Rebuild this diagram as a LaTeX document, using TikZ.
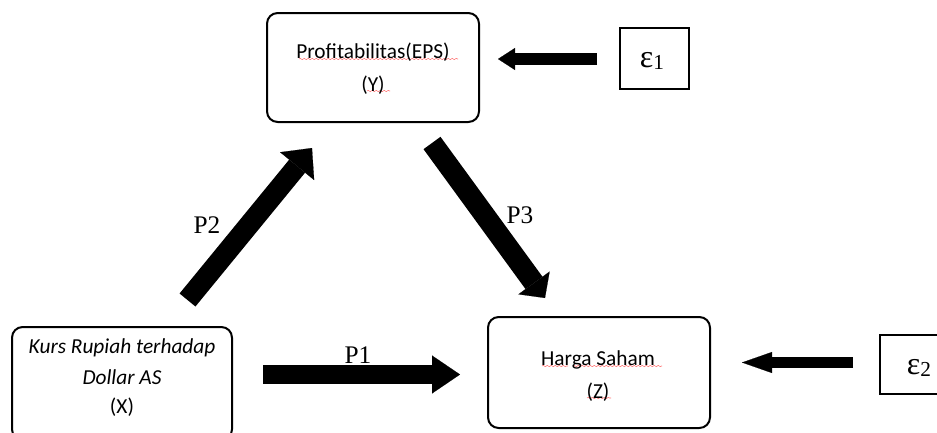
\documentclass[tikz,border=0pt]{standalone}
\usepackage{fontspec}
\setmainfont{Carlito}
\newfontfamily\tnr{Liberation Serif}
\usetikzlibrary{arrows.meta,decorations.pathmorphing}
\tikzset{
  rbox/.style={draw=black, line width=1.5pt, rounded corners=8pt, rectangle, inner sep=0pt},
  ebox/.style={draw=black, line width=1pt, rectangle, inner sep=0pt},
  txt/.style={inner sep=0pt, font=\fontsize{16}{19}\selectfont},
  plab/.style={inner sep=0pt, font=\tnr\fontsize{19}{22}\selectfont},
  elab/.style={inner sep=0pt},
  spell/.style={draw=red!55, line width=0.4pt, decorate, decoration={snake, amplitude=0.5pt, segment length=3pt}},
}
\begin{document}
\begin{tikzpicture}[x=0.75pt,y=-0.75pt]
\useasboundingbox (0,0) rectangle (937,432);
% boxes
\node[rbox, minimum width=159pt, minimum height=81.75pt] (Y) at (373,67.5) {};
\node[rbox, minimum width=165pt, minimum height=84.75pt] (X) at (122,383.5) {};
\node[rbox, minimum width=166.5pt, minimum height=83.25pt] (Z) at (599,372.5) {};
\node[ebox, minimum width=51.75pt, minimum height=45.75pt] (E1) at (654.5,58.5) {};
\node[ebox, minimum width=60pt, minimum height=44.25pt] (E2) at (920,364.5) {};
% spell-check marks
\coordinate (s1a) at (299,59); \coordinate (s1b) at (458,59);
\coordinate (s2a) at (367,91); \coordinate (s2b) at (390,91);
\coordinate (s3a) at (542,366); \coordinate (s3b) at (568,366);
\coordinate (s4a) at (573,366); \coordinate (s4b) at (662,366);
\coordinate (s5a) at (587,398); \coordinate (s5b) at (611,398);
\draw[spell] (s1a) -- (s1b);
\draw[spell] (s2a) -- (s2b);
\draw[spell] (s3a) -- (s3b);
\draw[spell] (s4a) -- (s4b);
\draw[spell] (s5a) -- (s5b);
% texts
\node[txt] (yt1) at (373,52) {Profitabilitas(EPS)};
\node[txt] (yt2) at (373,85) {(Y)};
\node[txt] (xt1) at (122,348) {\itshape Kurs Rupiah terhadap};
\node[txt] (xt2) at (122,377) {\itshape Dollar AS};
\node[txt] (xt3) at (122,407) {(X)};
\node[txt] (zt1) at (598,360) {Harga Saham};
\node[txt] (zt2) at (598,392) {(Z)};
\node[elab] (e1t) at (652,61) {\tnr\fontsize{24}{26}\selectfont ε\raisebox{-1.5pt}{\fontsize{16}{18}\selectfont 1}};
\node[elab] (e2t) at (919,368) {\tnr\fontsize{24}{26}\selectfont ε\raisebox{-1.5pt}{\fontsize{16}{18}\selectfont 2}};
% arrow coordinates
\coordinate (a1s) at (597,59);
\coordinate (a1t) at (498,59);
\coordinate (a2s) at (853,362.5);
\coordinate (a2t) at (742,362.5);
\coordinate (p1s) at (263,374.5);
\coordinate (p1t) at (460,374.5);
\coordinate (p2s) at (187.5,300);
\coordinate (p2t) at (312,148);
\coordinate (p3s) at (432,143);
\coordinate (p3t) at (545,298);
% arrows
\draw[line width=9pt, -{Triangle[length=12.75pt, width=16.5pt, line width=0.1pt]}] (a1s) -- (a1t);
\draw[line width=8.6pt, -{Triangle[length=22.5pt, width=15.75pt, line width=0.1pt]}] (a2s) -- (a2t);
\draw[line width=14.25pt, -{Triangle[length=21pt, width=28.5pt, line width=0.1pt]}] (p1s) -- (p1t);
\draw[line width=15.4pt, -{Triangle[length=17.6pt, width=33pt, line width=0.1pt]}] (p2s) -- (p2t);
\draw[line width=15.75pt, -{Triangle[length=14pt, width=29pt, line width=0.1pt]}] (p3s) -- (p3t);
% labels
\node[plab] (P1) at (358,355) {P1};
\node[plab] (P2) at (207,225) {P2};
\node[plab] (P3) at (520,215) {P3};
\end{tikzpicture}
\end{document}
